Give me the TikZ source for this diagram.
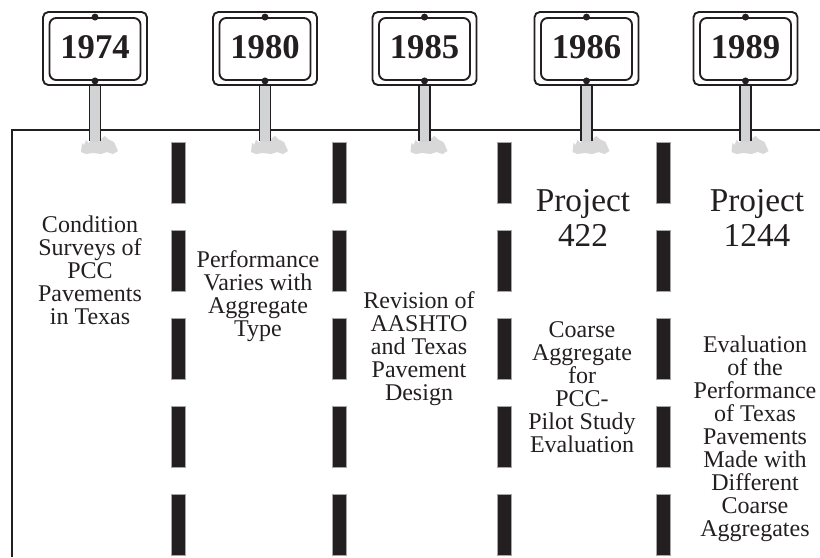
\documentclass[tikz,border=0pt]{standalone}
\usepackage{fontspec}
\setmainfont{Liberation Serif}
\definecolor{ink}{HTML}{231F20}
\definecolor{postgray}{HTML}{D1D3D4}
\definecolor{blobgray}{HTML}{D8D8D8}
\newcommand\mytight{\lineskiplimit-100pt\relax}
\begin{document}
\begin{tikzpicture}[x=0.75pt,y=-0.75pt,
  frame/.style={draw=ink,line width=1.5pt},
  lanebar/.style={fill=ink,draw=gray!70,line width=0.3pt},
  signin/.style={draw=ink,line width=1.4pt,rounded corners=5pt,minimum width=68.25pt,
    inner sep=0pt,text height=30pt,text depth=16.5pt,
    font=\fontsize{26}{26}\selectfont\bfseries,text=ink},
  signout/.style={draw=ink,line width=1.4pt,rounded corners=4pt,fill=white},
  postline/.style={draw=ink,line width=1.2pt},
  desc/.style={align=center,text=ink,inner sep=0pt,
    font=\fontsize{18}{17.25}\selectfont\mytight,
    execute at begin node=\strut,execute at end node=\strut},
  proj/.style={align=center,text=ink,inner sep=0pt,
    font=\fontsize{25}{26}\selectfont\mytight,
    execute at begin node=\strut,execute at end node=\strut}]
\useasboundingbox (0,0) rectangle (820,557);
% frame
\draw[frame] (820,130) -- (12,130) -- (12,557);
% lane bars
\foreach \bx in {178,339.5,504,663.5}{
  \foreach \by in {142,230,318,406,494}{
    \filldraw[lanebar] (\bx-7,\by) rectangle (\bx+7,\by+61);
  }
}
% signs
\foreach \sx/\yr in {95/1974,265/1980,424.5/1985,586.5/1986,745.5/1989}{
  \fill[blobgray,shift={(\sx,130)}] (-14,22) -- (-13,13) -- (-11,15) -- (-9,10) -- (-6,13)
    -- (-5,11) -- (5,11) -- (7,8) -- (10,6) -- (13,9) -- (19,12) -- (23,21) -- (18,24)
    -- (12,22) -- (6,24) -- (-2,23) -- (-9,24) -- cycle;
  \fill[postgray] (\sx-5.5,85) rectangle (\sx+5.5,142);
  \draw[postline] (\sx-5.5,85) -- (\sx-5.5,141) (\sx+5.5,85) -- (\sx+5.5,141);
  \draw[signout] (\sx-52,12) rectangle (\sx+52,85);
  \node[signin] (s\yr) at (\sx,49) {\yr};
  \fill[ink] (s\yr.north) circle (2.6pt);
  \fill[ink] (s\yr.south) circle (2.6pt);
}
% texts
\node[desc] (t1974) at (90,273.4) {Condition\\Surveys of\\PCC\\Pavements\\in Texas};
\node[desc] (t1980) at (258,296.9) {Performance\\Varies with\\Aggregate\\Type};
\node[desc] (t1985) at (419,349.4) {Revision of\\AASHTO\\and Texas\\Pavement\\Design};
\node[proj] (p1986) at (583,223.4) {Project\\422};
\node[desc] (t1986) at (582,390.9) {Coarse\\Aggregate\\for\\PCC-\\Pilot Study\\Evaluation};
\node[proj] (p1989) at (757,223.4) {Project\\1244};
\node[desc] (t1989) at (755,439.4) {Evaluation\\of the\\Performance\\of Texas\\Pavements\\Made with\\Different\\Coarse\\Aggregates};
\end{tikzpicture}
\end{document}
